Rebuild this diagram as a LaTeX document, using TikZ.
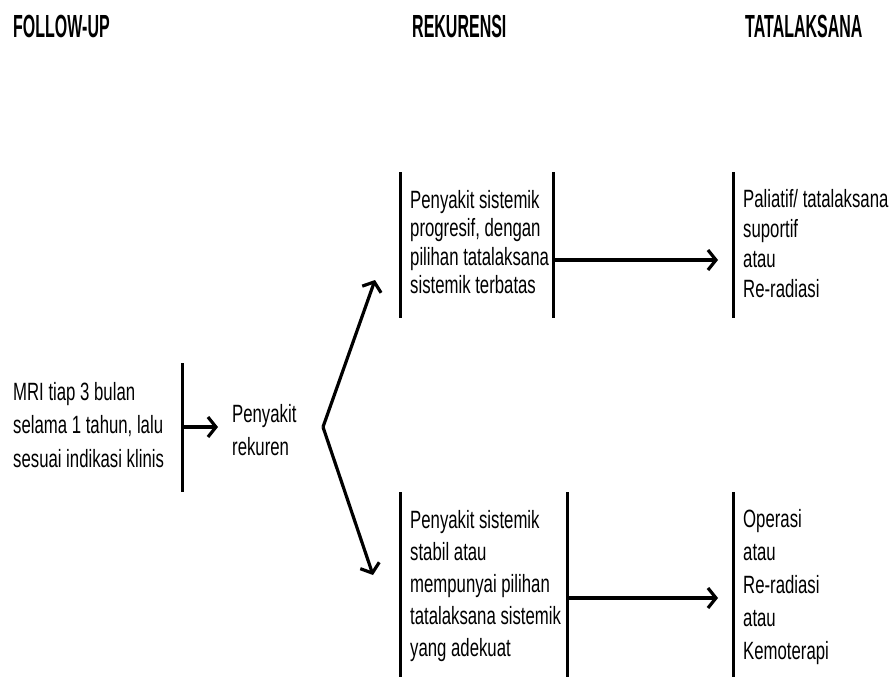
\documentclass[tikz,border=0pt]{standalone}
\usepackage{fontspec}
\usepackage{tikz}
\usetikzlibrary{arrows.meta}
\newfontfamily\bodyfont{Liberation Sans}[FakeStretch=0.67]
\newfontfamily\headfont{Liberation Sans}[FakeStretch=0.5]
\tikzset{
  head/.style={font=\headfont\bfseries\fontsize{32}{36}\selectfont, anchor=base west, inner sep=0pt},
  blk/.style={font=\bodyfont\fontsize{25}{#1}\selectfont, align=left, anchor=north west, inner sep=0pt},
  bar/.style={line width=3pt},
  arr/.style={line width=3.2pt, -{Straight Barb[length=8pt,width=20pt]}}
}
\begin{document}
\begin{tikzpicture}[x=1pt,y=-1pt]
    \useasboundingbox (0,0) rectangle (895,677);

    % column headers
    \node[head] (hfu) at (13,38) {FOLLOW-UP};
    \node[head] (hrek) at (412,38) {REKURENSI};
    \node[head] (htl) at (745,38) {TATALAKSANA};

    % follow-up
    \node[blk=33.5] (fu) at (13,382) {MRI tiap 3 bulan\\selama 1 tahun, lalu\\sesuai indikasi klinis};
    \coordinate (fuT) at (182,363);
    \coordinate (fuB) at (182,492);
    \coordinate (fuM) at (182,427);
    \draw[bar] (fuT) -- (fuB);

    \node[blk=33] (rek) at (232,404) {Penyakit\\rekuren};
    \coordinate (rekIn) at (218,427);
    \draw[arr] (fuM) -- (rekIn);

    % fork
    \coordinate (fork) at (323,427);
    \coordinate (upTip) at (375,280);
    \coordinate (loTip) at (373,575);
    \draw[arr] (fork) -- (upTip);
    \draw[arr] (fork) -- (loTip);

    % upper branch
    \node[blk=28.5] (prog) at (410,190) {Penyakit sistemik\\progresif, dengan\\pilihan tatalaksana\\sistemik terbatas};
    \draw[bar] (400,172) -- (400,318);
    \draw[bar] (553,172) -- (553,318);
    \coordinate (progOut) at (553,260);
    \coordinate (palIn) at (718,260);
    \draw[arr] (progOut) -- (palIn);

    \node[blk=30] (pal) at (743,189) {Paliatif/ tatalaksana\\suportif\\atau\\Re-radiasi};
    \draw[bar] (733,172) -- (733,318);

    % lower branch
    \node[blk=32] (stab) at (410,510) {Penyakit sistemik\\stabil atau\\mempunyai pilihan\\tatalaksana sistemik\\yang adekuat};
    \draw[bar] (400,492) -- (400,677);
    \draw[bar] (567,492) -- (567,677);
    \coordinate (stabOut) at (567,598);
    \coordinate (opIn) at (718,598);
    \draw[arr] (stabOut) -- (opIn);

    \node[blk=33] (op) at (743,509) {Operasi\\atau\\Re-radiasi\\atau\\Kemoterapi};
    \draw[bar] (733,492) -- (733,677);
\end{tikzpicture}
\end{document}
